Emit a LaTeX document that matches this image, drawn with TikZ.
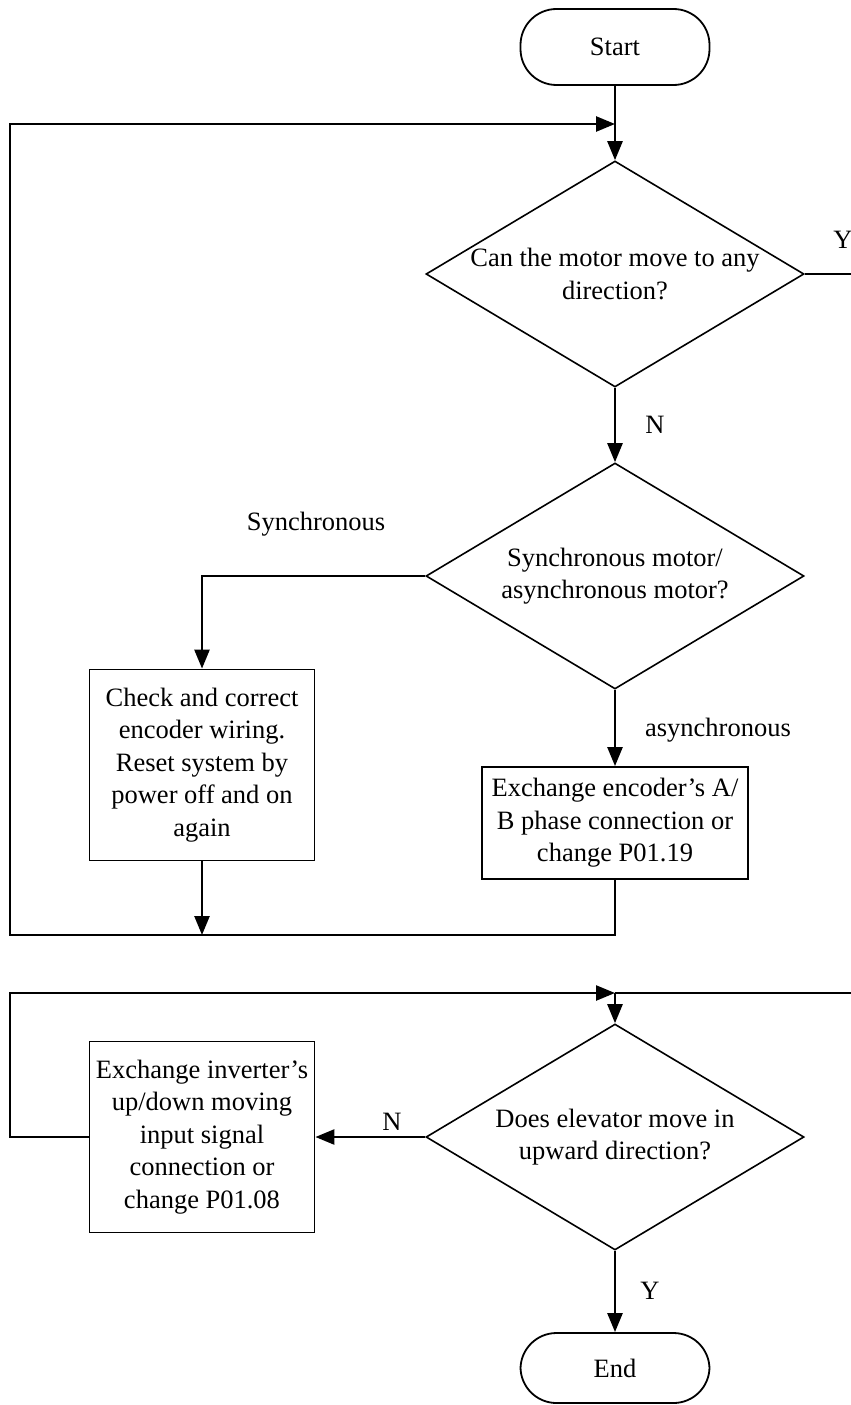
\documentclass[tikz,border=0pt]{standalone}
\usepackage{fontspec}
\setmainfont{Liberation Serif}
\usetikzlibrary{arrows.meta,shapes.geometric}
\begin{document}
\begin{tikzpicture}[x=1pt,y=-1pt,
  every node/.style={font=\fontsize{26.5}{32.5}\selectfont},
  term/.style={draw, line width=1.8pt, rectangle, rounded corners=36pt, minimum width=189pt, minimum height=76pt, inner sep=0},
  dec/.style={draw, line width=1.6pt, diamond, minimum width=378pt, minimum height=226pt, inner sep=0},
  proc/.style={draw, line width=1.8pt, rectangle, align=center, inner sep=0},
  txt/.style={align=center, inner sep=0},
  conn/.style={line width=2.5pt},
  arr/.style={conn, -{Triangle[length=19pt,width=15pt]}},
  lbl/.style={inner sep=0}
]
\useasboundingbox (0,0) rectangle (851,1405);
% nodes
\node[term] (start) at (615,47) {Start};
\node[dec] (d1) at (615,274) {};
\node[txt] (d1t) at (d1) {Can the motor move to any\\direction?};
\node[dec] (d2) at (615,576) {};
\node[txt] (d2t) at (d2) {Synchronous motor/\\asynchronous motor?};
\node[proc, minimum width=225pt, minimum height=191pt] (b1) at (202,765) {Check and correct\\encoder wiring.\\Reset system by\\power off and on\\again};
\node[proc, minimum width=266pt, minimum height=112pt] (b2) at (615,823) {Exchange encoder’s A/\\B phase connection or\\change P01.19};
\node[dec] (d3) at (615,1137) {};
\node[txt] (d3t) at (d3) {Does elevator move in\\upward direction?};
\node[proc, minimum width=225pt, minimum height=191pt] (b3) at (202,1137) {Exchange inverter’s\\up/down moving\\input signal\\connection or\\change P01.08};
\node[term, minimum height=70pt] (end) at (615,1368) {End};
% labels
\node[lbl] (ly1) at (843,240) {Y};
\node[lbl] (ln1) at (655,425) {N};
\node[lbl] (lsyn) at (316,524) {Synchronous};
\node[lbl] (lasy) at (718,730) {asynchronous};
\node[lbl] (ln2) at (392,1122) {N};
\node[lbl] (ly2) at (650,1291) {Y};
% coordinates
\coordinate (j1) at (615,124);
\coordinate (tl) at (10,124);
\coordinate (bl) at (10,935);
\coordinate (e1) at (851,274);
\coordinate (j2) at (615,993);
\coordinate (e2) at (851,993);
\coordinate (tl2) at (10,993);
% connectors
\draw[arr] (start) -- (d1);
\draw[arr] (b2.south) -- (b2.south |- bl) -- (bl) -- (tl) -- (j1);
\draw[arr] (b1.south) -- (b1.south |- bl);
\draw[arr] (d1) -- (d2);
\draw[conn] (d1.east) -- (e1);
\draw[arr] (d2.west) -| (b1.north);
\draw[arr] (d2.south) -- (b2.north);
\draw[conn] (e2) -- (j2);
\draw[arr] (j2) -- (d3.north);
\draw[arr] (b3.west) -- (b3.west -| tl2) -- (tl2) -- (j2);
\draw[arr] (d3.west) -- (b3.east);
\draw[arr] (d3) -- (end);
\end{tikzpicture}
\end{document}
